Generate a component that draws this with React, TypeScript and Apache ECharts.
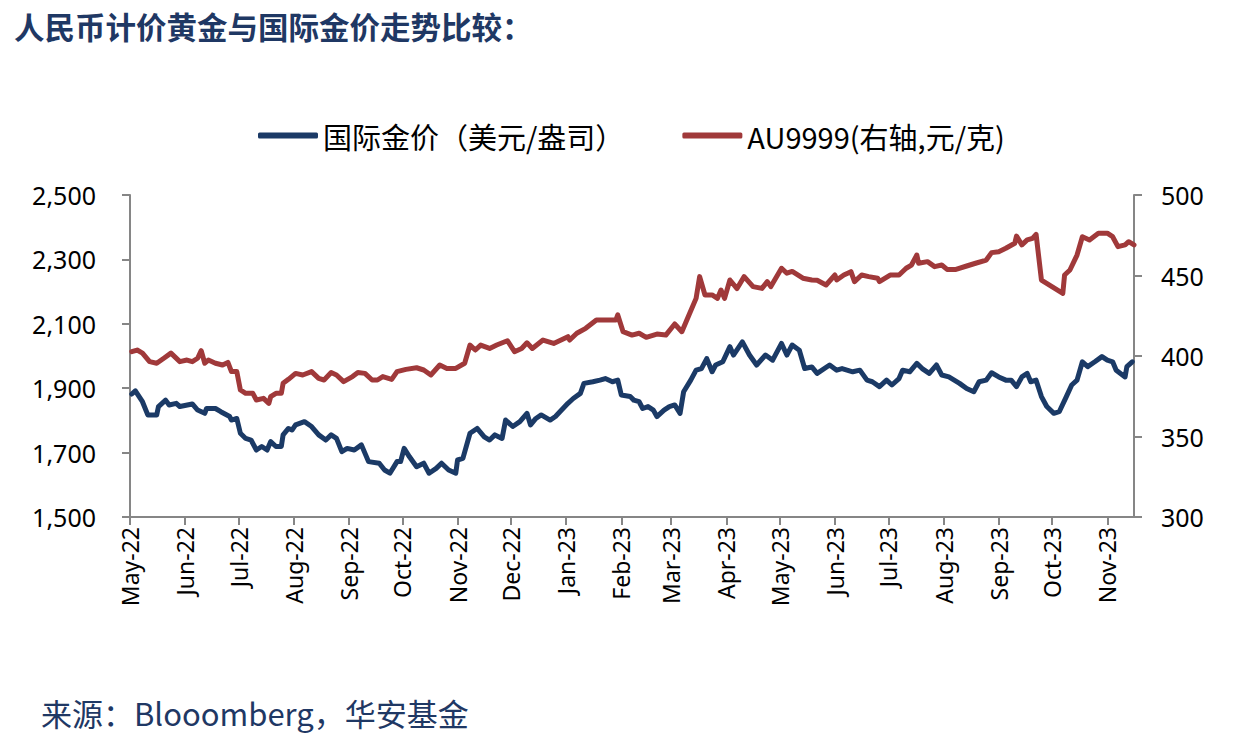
import React, { useEffect, useRef } from "react";
import * as echarts from "echarts";

const titleText = "人民币计价黄金与国际金价走势比较：";
const sourceText = "来源：Blooomberg，华安基金";
const seriesNames = ["国际金价（美元/盎司）", "AU9999(右轴,元/克)"];

const monthLabels = [
  "May-22", "Jun-22", "Jul-22", "Aug-22", "Sep-22", "Oct-22", "Nov-22", "Dec-22",
  "Jan-23", "Feb-23", "Mar-23", "Apr-23", "May-23", "Jun-23", "Jul-23", "Aug-23",
  "Sep-23", "Oct-23", "Nov-23",
];
const monthStarts = [
  "2022-05-01", "2022-06-01", "2022-07-01", "2022-08-01", "2022-09-01", "2022-10-01",
  "2022-11-01", "2022-12-01", "2023-01-01", "2023-02-01", "2023-03-01", "2023-04-01",
  "2023-05-01", "2023-06-01", "2023-07-01", "2023-08-01", "2023-09-01", "2023-10-01",
  "2023-11-01",
];
const xMin = "2022-05-01";
const xMax = "2023-11-16";

const usdDates = [
  "2022-05-02","2022-05-04","2022-05-08","2022-05-11","2022-05-16","2022-05-17","2022-05-21","2022-05-23","2022-05-27","2022-05-29",
  "2022-06-05","2022-06-08","2022-06-12","2022-06-13","2022-06-18","2022-06-21","2022-06-26","2022-06-27","2022-06-30",
  "2022-07-02","2022-07-05","2022-07-08","2022-07-11","2022-07-14","2022-07-17","2022-07-19","2022-07-22","2022-07-25","2022-07-26","2022-07-29","2022-07-31",
  "2022-08-02","2022-08-07","2022-08-11","2022-08-15","2022-08-19","2022-08-22","2022-08-25","2022-08-28","2022-08-31",
  "2022-09-04","2022-09-08","2022-09-12","2022-09-18","2022-09-21","2022-09-24","2022-09-28","2022-09-30",
  "2022-10-02","2022-10-05","2022-10-09","2022-10-13","2022-10-16","2022-10-20","2022-10-23","2022-10-27","2022-10-31",
  "2022-11-01","2022-11-04","2022-11-08","2022-11-12","2022-11-16","2022-11-19","2022-11-22","2022-11-26","2022-11-28",
  "2022-12-02","2022-12-06","2022-12-10","2022-12-12","2022-12-15","2022-12-18","2022-12-23","2022-12-26",
  "2023-01-02","2023-01-05","2023-01-09","2023-01-11","2023-01-16","2023-01-20","2023-01-23","2023-01-27","2023-01-30",
  "2023-02-01","2023-02-06","2023-02-08","2023-02-11","2023-02-13","2023-02-16","2023-02-19","2023-02-21","2023-02-25","2023-02-28",
  "2023-03-03","2023-03-06","2023-03-08","2023-03-12","2023-03-15","2023-03-18","2023-03-21","2023-03-24","2023-03-26","2023-03-30",
  "2023-04-03","2023-04-05","2023-04-10","2023-04-14","2023-04-18","2023-04-23","2023-04-27",
  "2023-05-02","2023-05-05","2023-05-08","2023-05-12","2023-05-15","2023-05-19","2023-05-22","2023-05-29",
  "2023-06-02","2023-06-05","2023-06-11","2023-06-15","2023-06-19","2023-06-22","2023-06-26","2023-06-30",
  "2023-07-03","2023-07-07","2023-07-09","2023-07-13","2023-07-17","2023-07-20","2023-07-24","2023-07-28","2023-07-31",
  "2023-08-04","2023-08-10","2023-08-14","2023-08-18","2023-08-21","2023-08-25","2023-08-28",
  "2023-09-01","2023-09-05","2023-09-08","2023-09-11","2023-09-14","2023-09-17","2023-09-19","2023-09-22","2023-09-25","2023-09-28",
  "2023-10-02","2023-10-05","2023-10-09","2023-10-12","2023-10-15","2023-10-18","2023-10-21","2023-10-25","2023-10-29",
  "2023-11-01","2023-11-04","2023-11-06","2023-11-11","2023-11-12","2023-11-15",
];
const usdValues = [
  1882,1892,1858,1817,1817,1843,1863,1848,1853,1843,
  1851,1832,1822,1837,1837,1827,1812,1801,1806,
  1760,1744,1739,1708,1719,1708,1734,1719,1719,1755,1775,1770,
  1786,1796,1781,1755,1739,1755,1744,1703,1713,
  1708,1724,1672,1667,1646,1636,1672,1672,
  1713,1687,1656,1667,1636,1651,1667,1646,1636,
  1677,1682,1760,1775,1749,1739,1755,1744,1801,
  1781,1796,1822,1786,1806,1817,1801,1812,
  1853,1868,1884,1915,1920,1925,1930,1920,1925,
  1879,1874,1863,1858,1837,1843,1832,1812,1832,1843,
  1848,1822,1889,1925,1956,1961,1992,1951,1972,1982,
  2029,2003,2044,2003,1972,2003,1987,
  2039,2003,2034,2018,1961,1966,1946,1972,
  1956,1961,1951,1956,1925,1920,1905,1925,
  1910,1930,1956,1951,1977,1961,1946,1972,1941,
  1935,1915,1899,1889,1920,1925,1948,
  1935,1925,1925,1905,1935,1946,1920,1925,1874,1843,
  1822,1827,1874,1910,1925,1982,1967,1982,1998,
  1987,1982,1956,1935,1967,1982,
];

const cnyDates = [
  "2022-05-02","2022-05-05","2022-05-08","2022-05-12","2022-05-16","2022-05-20","2022-05-24","2022-05-29",
  "2022-06-02","2022-06-05","2022-06-08","2022-06-10","2022-06-12","2022-06-14","2022-06-18","2022-06-22","2022-06-25","2022-06-27","2022-06-30",
  "2022-07-02","2022-07-05","2022-07-09","2022-07-11","2022-07-15","2022-07-18","2022-07-19","2022-07-22","2022-07-25","2022-07-26","2022-07-29",
  "2022-08-02","2022-08-06","2022-08-11","2022-08-15","2022-08-18","2022-08-22","2022-08-25","2022-08-29",
  "2022-09-03","2022-09-06","2022-09-10","2022-09-14","2022-09-17","2022-09-20","2022-09-25","2022-09-28",
  "2022-10-03","2022-10-09","2022-10-13","2022-10-17","2022-10-22","2022-10-26","2022-10-31",
  "2022-11-05","2022-11-08","2022-11-11","2022-11-14","2022-11-19","2022-11-23","2022-11-29",
  "2022-12-03","2022-12-07","2022-12-10","2022-12-13","2022-12-19","2022-12-25",
  "2023-01-02","2023-01-03","2023-01-07","2023-01-12","2023-01-18","2023-01-24","2023-01-29","2023-01-30",
  "2023-02-02","2023-02-07","2023-02-11","2023-02-15","2023-02-21","2023-02-26",
  "2023-03-03","2023-03-07","2023-03-11","2023-03-15","2023-03-17","2023-03-20","2023-03-24","2023-03-27","2023-03-29","2023-03-31",
  "2023-04-03","2023-04-07","2023-04-11","2023-04-16","2023-04-21","2023-04-24","2023-04-26",
  "2023-05-02","2023-05-05","2023-05-08","2023-05-14","2023-05-19","2023-05-22","2023-05-27",
  "2023-06-01","2023-06-02","2023-06-06","2023-06-10","2023-06-12","2023-06-16","2023-06-20","2023-06-25","2023-06-26",
  "2023-07-02","2023-07-07","2023-07-11","2023-07-14","2023-07-17","2023-07-18","2023-07-23","2023-07-27","2023-07-31",
  "2023-08-03","2023-08-08","2023-08-14","2023-08-19","2023-08-25","2023-08-28",
  "2023-09-01","2023-09-05","2023-09-10","2023-09-11","2023-09-14","2023-09-17","2023-09-20","2023-09-22","2023-09-25",
  "2023-10-07","2023-10-08","2023-10-11","2023-10-15","2023-10-18","2023-10-22","2023-10-27",
  "2023-11-01","2023-11-04","2023-11-07","2023-11-11","2023-11-13","2023-11-16",
];
const cnyValues = [
  402.7,403.7,401.8,396.5,395.5,398.6,401.8,396.5,
  397.5,396.5,398.6,403.3,395.5,397.5,395.5,394.4,396.0,390.3,390.3,
  378.9,376.8,376.8,372.7,373.7,370.6,374.7,376.8,376.8,383.0,385.5,
  389.2,388.2,390.3,386.1,385.1,389.7,388.2,384.1,
  387.2,389.7,389.2,385.1,385.1,387.2,385.5,390.3,
  391.7,392.7,391.3,388.2,394.4,392.3,392.3,
  395.5,406.8,403.7,406.8,404.7,406.8,409.5,
  402.7,404.7,408.2,404.7,409.9,407.8,
  412.0,409.9,414.1,417.2,422.4,422.4,422.4,425.5,
  415.1,413.0,414.1,411.6,413.6,413.0,
  419.9,415.1,425.5,435.8,449.3,437.9,437.9,435.8,441.0,435.8,
  447.2,441.9,449.3,443.1,442.0,446.2,443.1,
  454.5,451.4,452.5,448.3,447.2,447.0,444.1,
  450.3,447.2,450.3,452.4,446.2,450.3,449.3,448.3,446.2,
  450.3,450.3,454.5,456.5,462.7,457.6,458.6,455.5,456.5,
  453.8,453.8,455.9,457.6,459.6,464.2,
  464.8,466.9,470.0,474.5,469.0,472.1,473.1,475.6,447.2,
  438.9,450.3,453.4,462.7,474.1,472.1,476.3,
  476.3,474.1,467.9,469.0,471.0,469.0,
];

const leftTicks = { min: 1500, max: 2500, interval: 200 };
const rightTicks = { min: 300, max: 500, interval: 50 };

const BLUE = "#1b3a66";
const RED = "#a0393a";
const AXIS = "#868686";
const NAVY = "#1f3864";

const toTs = (d: string) => {
  const [y, m, dd] = d.split("-").map(Number);
  return Date.UTC(y, m - 1, dd);
};

export default function App() {
  const ref = useRef<HTMLDivElement>(null);
  useEffect(() => {
    if (!ref.current) return;
    const chart = echarts.init(ref.current, null, { renderer: "svg" });
    const tickValues = monthStarts.map(toTs);
    const labelFor = (v: number) => {
      const i = tickValues.indexOf(v);
      return i >= 0 ? monthLabels[i] : "";
    };
    const fontFam = "'Noto Sans', 'Noto Sans CJK SC', sans-serif";
    chart.setOption({
      animation: false,
      backgroundColor: "#ffffff",
      textStyle: { fontFamily: fontFam },
      title: [
        {
          text: titleText,
          left: 9,
          top: 6,
          textStyle: { fontSize: 30.5, fontWeight: "bold", color: NAVY, fontFamily: "'Noto Sans CJK SC', sans-serif" },
        },
        {
          text: sourceText,
          left: 36,
          top: 692,
          textStyle: { fontSize: 31, fontWeight: "normal", color: NAVY, fontFamily: "'Noto Sans CJK SC', sans-serif" },
        },
      ],
      legend: {
        left: 253,
        top: 116,
        icon: "roundRect",
        itemWidth: 60,
        itemHeight: 6,
        itemGap: 58,
        textStyle: { fontSize: 29, color: "#000", fontFamily: "'Noto Sans CJK SC', sans-serif" },
        data: seriesNames,
      },
      grid: { left: 130, right: 108, top: 195, bottom: 233, containLabel: false },
      xAxis: {
        type: "value",
        min: toTs(xMin),
        max: toTs(xMax),
        axisLine: { show: true, lineStyle: { color: AXIS, width: 2 } },
        axisTick: { show: true, length: 8, lineStyle: { color: AXIS, width: 2 }, customValues: tickValues },
        splitLine: { show: false },
        axisLabel: {
          customValues: tickValues,
          rotate: 90,
          fontSize: 23,
          color: "#000",
          margin: 10,
          formatter: (v: number) => labelFor(v),
        },
      },
      yAxis: [
        {
          type: "value",
          position: "left",
          ...leftTicks,
          axisLine: { show: true, lineStyle: { color: AXIS, width: 2 } },
          axisTick: { show: true, length: 8, lineStyle: { color: AXIS, width: 2 } },
          splitLine: { show: false },
          axisLabel: {
            fontSize: 25,
            color: "#000",
            margin: 34,
            formatter: (v: number) => v.toLocaleString("en-US"),
          },
        },
        {
          type: "value",
          position: "right",
          ...rightTicks,
          axisLine: { show: true, lineStyle: { color: AXIS, width: 2 } },
          axisTick: { show: true, length: 8, lineStyle: { color: AXIS, width: 2 } },
          splitLine: { show: false },
          axisLabel: { fontSize: 25, color: "#000", margin: 27 },
        },
      ],
      series: [
        {
          name: seriesNames[0],
          type: "line",
          yAxisIndex: 0,
          showSymbol: false,
          lineStyle: { color: BLUE, width: 5, join: "round", cap: "round" },
          itemStyle: { color: BLUE },
          data: usdDates.map((d, i) => [toTs(d), usdValues[i]]),
        },
        {
          name: seriesNames[1],
          type: "line",
          yAxisIndex: 1,
          showSymbol: false,
          lineStyle: { color: RED, width: 5, join: "round", cap: "round" },
          itemStyle: { color: RED },
          data: cnyDates.map((d, i) => [toTs(d), cnyValues[i]]),
        },
      ],
    });
    return () => chart.dispose();
  }, []);
  return <div ref={ref} style={{ width: 1242, height: 750, position: "absolute", left: 0, top: 0 }} />;
}
